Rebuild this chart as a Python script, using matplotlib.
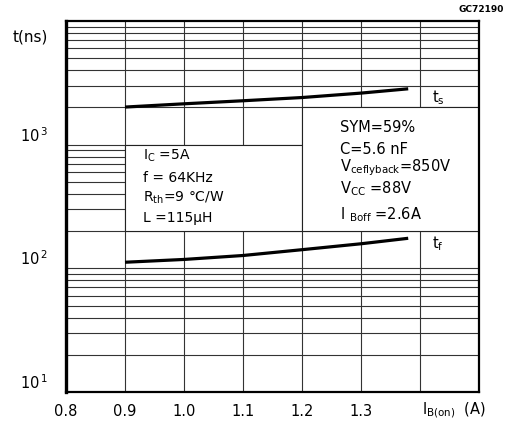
import matplotlib
matplotlib.use("Agg")
import matplotlib.pyplot as plt
from matplotlib.patches import Rectangle
from matplotlib.ticker import FixedLocator, NullFormatter

# ---- data ----
ib_on = [0.9, 1.0, 1.1, 1.2, 1.3, 1.38]
ts_ns = [2014, 2140, 2265, 2405, 2612, 2830]
tf_ns = [112, 118, 127, 141.5, 158, 175]

x_ticks = [0.8, 0.9, 1.0, 1.1, 1.2, 1.3]
x_ticklabels = ["0.8", "0.9", "1.0", "1.1", "1.2", "1.3"]
y_ticks = [10, 100, 1000]
y_ticklabels = [r"$10^{\,1}$", r"$10^{\,2}$", r"$10^{\,3}$"]
x_grid = [0.9, 1.0, 1.1, 1.2, 1.3, 1.4]
y_grid = [m * d for d in (10, 100, 1000) for m in range(2, 10)] + [100, 1000]

left_box_lines = [r"I$_{\mathrm{C}}$ =5A", "f = 64KHz", r"R$_{\mathrm{th}}$=9 °C/W", "L =115µH"]
right_box_lines = ["SYM=59%", "C=5.6 nF", r"V$_{\mathrm{ceflyback}}$=850V",
                   r"V$_{\mathrm{CC}}$ =88V", r"I $_{\mathrm{Boff}}$ =2.6A"]

plt.rcParams['font.family'] = ['DejaVu Sans']
plt.rcParams['mathtext.fontset'] = 'dejavusans'
plt.rcParams['mathtext.default'] = 'regular'

W, H = 509, 426
fig = plt.figure(figsize=(W / 100, H / 100), dpi=100)
L, R, T, B = 66, 479, 21, 392
ax = fig.add_axes([L / W, 1 - B / H, (R - L) / W, (B - T) / H])
ax.set_xlim(0.8, 1.5)
ax.set_yscale('log')
ax.set_ylim(10, 10000)

# grid
for xv in x_grid:
    ax.axvline(xv, color='#333333', lw=0.8, zorder=0.5)
for yv in y_grid:
    ax.axhline(yv, color='#333333', lw=0.8, zorder=0.5)

# white boxes
ax.add_patch(Rectangle((0.9, 200), 0.3, 800, facecolor='white', edgecolor='#222222', lw=0.8, zorder=1))
ax.add_patch(Rectangle((1.2, 200), 0.3, 1800, facecolor='white', edgecolor='#222222', lw=0.8, zorder=1))

# curves
ax.plot(ib_on, ts_ns, color='black', lw=2.3, zorder=3, solid_capstyle='butt')
ax.plot(ib_on, tf_ns, color='black', lw=2.3, zorder=3, solid_capstyle='butt')

# ticks
ax.xaxis.set_major_locator(FixedLocator(x_ticks))
ax.set_xticklabels(x_ticklabels)
ax.yaxis.set_major_locator(FixedLocator(y_ticks))
ax.yaxis.set_minor_locator(FixedLocator([]))
ax.yaxis.set_minor_formatter(NullFormatter())
ax.set_yticklabels(y_ticklabels)
ax.tick_params(axis='both', which='both', length=0, labelsize=10.5)
ax.tick_params(axis='x', pad=9)
ax.tick_params(axis='y', pad=13)
for lbl in ax.get_yticklabels():
    lbl.set_verticalalignment('bottom')

for s in ['top', 'right', 'bottom']:
    ax.spines[s].set_linewidth(1.6)
ax.spines['left'].set_linewidth(2.4)
for s in ax.spines.values():
    s.set_zorder(5)

# box texts
def px2fig(x, y):
    return x / W, 1 - y / H

for i, (t, yy) in enumerate(zip(left_box_lines, [156, 178, 198, 218])):
    fig.text(*px2fig(143, yy), t, fontsize=10, va='center', ha='left')
for t, yy in zip(right_box_lines, [127, 149, 168, 189, 215]):
    fig.text(*px2fig(340, yy), t, fontsize=10.5, va='center', ha='left')

fig.text(*px2fig(432, 98), r"t$_{\mathrm{s}}$", fontsize=10.5, va='center', ha='left')
fig.text(*px2fig(432, 244), r"t$_{\mathrm{f}}$", fontsize=10.5, va='center', ha='left')
fig.text(*px2fig(13, 37), "t(ns)", fontsize=11, va='center', ha='left')
fig.text(*px2fig(504, 9), "GC72190", fontsize=6.5, va='center', ha='right', fontweight='bold')
fig.text(*px2fig(422, 410), r"I$_{\mathrm{B(on)}}$  (A)", fontsize=10.5, va='center', ha='left')

fig.savefig("out.png", dpi=100, facecolor='white')
